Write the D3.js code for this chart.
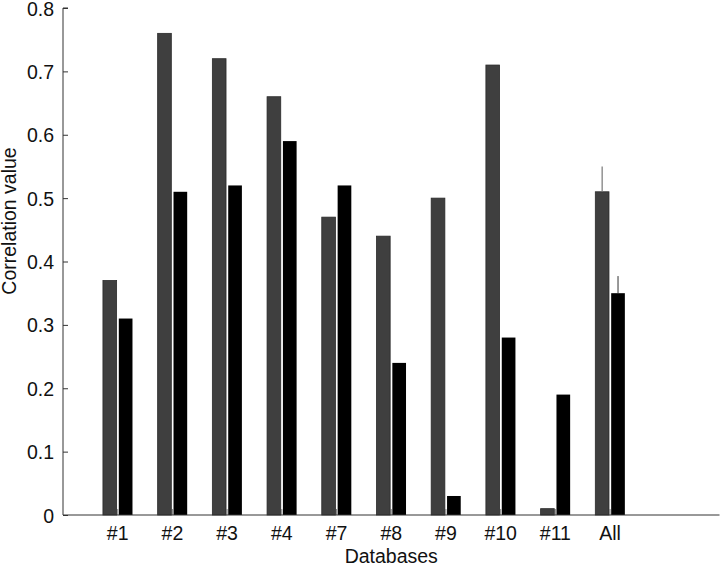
<!DOCTYPE html>
<html>
<head>
<meta charset="utf-8">
<script src="https://cdn.jsdelivr.net/npm/d3@7"></script>
<style>
  body { margin: 0; background: #fff; }
  text { font-family: "Liberation Sans", Arial, sans-serif; fill: #111; }
</style>
</head>
<body>
<div class="chart"></div>
<script>
const databases = ["#1", "#2", "#3", "#4", "#7", "#8", "#9", "#10", "#11", "All"];
const seriesA = [0.37, 0.76, 0.72, 0.66, 0.47, 0.44, 0.50, 0.71, 0.01, 0.51];
const seriesB = [0.31, 0.51, 0.52, 0.59, 0.52, 0.24, 0.03, 0.28, 0.19, 0.35];
// only the "All" group has an upper error whisker
const errA = [0, 0, 0, 0, 0, 0, 0, 0, 0, 0.04];
const errB = [0, 0, 0, 0, 0, 0, 0, 0, 0, 0.027];
const yTicks = [0, 0.1, 0.2, 0.3, 0.4, 0.5, 0.6, 0.7, 0.8];

const width = 720, height = 566;
const fontSize = 19.5;
const svg = d3.select(".chart").append("svg")
    .attr("width", width)
    .attr("height", height);

// categories sit at 1..10 on a 0..12 axis
const x = d3.scaleLinear().domain([0, 12]).range([63, 719.5]);
const y = d3.scaleLinear().domain([0, 0.8]).range([515, 8]);

const half = 0.25; // bar width in category units

const groups = databases.map((d, i) => ({
    name: d, pos: i + 1, a: seriesA[i], b: seriesB[i], ea: errA[i], eb: errB[i]
}));

/* x ticks (pointing inward) */
svg.append("g").selectAll("line")
    .data(groups)
    .join("line")
    .attr("x1", d => x(d.pos)).attr("x2", d => x(d.pos))
    .attr("y1", y(0)).attr("y2", y(0) - 6)
    .attr("stroke", "#888").attr("stroke-width", 1);

/* bars */
svg.append("g").selectAll("rect")
    .data(groups)
    .join("rect")
    .attr("x", d => x(d.pos - half - 0.02))
    .attr("width", x(half) - x(0))
    .attr("y", d => y(d.a))
    .attr("height", d => y(0) - y(d.a))
    .attr("fill", "#3f3f3f")
    .attr("stroke", "#2a2a2a")
    .attr("stroke-width", 0.8);

svg.append("g").selectAll("rect")
    .data(groups)
    .join("rect")
    .attr("x", d => x(d.pos + 0.02))
    .attr("width", x(half) - x(0))
    .attr("y", d => y(d.b))
    .attr("height", d => y(0) - y(d.b))
    .attr("fill", "#000");

/* error whiskers */
const errs = groups.filter(d => d.ea > 0);
svg.append("g").selectAll("line")
    .data(errs)
    .join("line")
    .attr("x1", d => x(d.pos - half / 2 - 0.02)).attr("x2", d => x(d.pos - half / 2 - 0.02))
    .attr("y1", d => y(d.a)).attr("y2", d => y(d.a + d.ea))
    .attr("stroke", "#777").attr("stroke-width", 1.2);
svg.append("g").selectAll("line")
    .data(errs)
    .join("line")
    .attr("x1", d => x(d.pos + half / 2 + 0.02)).attr("x2", d => x(d.pos + half / 2 + 0.02))
    .attr("y1", d => y(d.b)).attr("y2", d => y(d.b + d.eb))
    .attr("stroke", "#333").attr("stroke-width", 1);

/* axes */
const yAxis = svg.append("g")
    .attr("transform", `translate(${x(0)},0)`)
    .call(d3.axisRight(y).tickValues(yTicks).tickSize(5).tickFormat(d => d === 0 ? "0" : d3.format(".1f")(d)));
yAxis.select(".domain").attr("d", `M5,${y(0.8)}H0V${y(0)}`).attr("stroke", "#333");
yAxis.selectAll(".tick line").attr("stroke", "#333");
yAxis.selectAll(".tick text")
    .attr("x", -9)
    .attr("dy", "0.36em")
    .attr("text-anchor", "end")
    .attr("font-size", fontSize)
    .attr("font-family", null);

svg.append("line")
    .attr("x1", x(0)).attr("x2", x(12))
    .attr("y1", y(0)).attr("y2", y(0))
    .attr("stroke", "#333");

svg.append("g").selectAll("text")
    .data(groups)
    .join("text")
    .attr("x", d => x(d.pos))
    .attr("y", 540)
    .attr("text-anchor", "middle")
    .attr("font-size", fontSize)
    .text(d => d.name);

svg.append("text")
    .attr("x", (x(0) + x(12)) / 2)
    .attr("y", 563)
    .attr("text-anchor", "middle")
    .attr("font-size", fontSize)
    .text("Databases");

svg.append("text")
    .attr("transform", "translate(16,221) rotate(-90)")
    .attr("text-anchor", "middle")
    .attr("font-size", fontSize)
    .text("Correlation value");
</script>
</body>
</html>
